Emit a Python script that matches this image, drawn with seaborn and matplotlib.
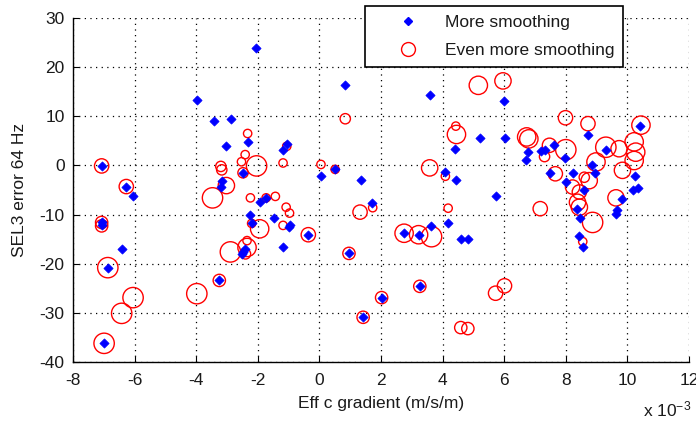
import numpy as np
import pandas as pd
import matplotlib
matplotlib.use("Agg")
import matplotlib.pyplot as plt
from matplotlib.lines import Line2D
from matplotlib.ticker import FuncFormatter
import seaborn as sns

# ---- data (x in units of 1e-3 m/s/m) ----
blue_x = [-7.07, -6.27, -6.05, -7.07, -7.07, -6.42, -6.87, -6.99, -3.98, -3.43, -2.88, -3.03,
          -2.33, -2.06, -1.06, -1.18, -2.48, -3.16, -3.21, -1.73, -1.94, -1.46, -2.24, -2.20,
          -2.43, -2.47, -2.50, -1.00, -0.94, -1.18, -3.25,
          0.05, 0.51, 1.34, 0.84, -0.36, 0.96, 1.70, 2.02, 1.42, 3.26, 2.75, 3.22, 3.62, 4.18,
          4.59, 4.82, 3.58, 4.40, 5.20, 4.09, 4.45, 5.98, 6.01, 6.77, 6.71, 5.74,
          7.20, 7.31, 7.63, 7.99, 7.49, 8.22, 8.01, 8.60, 8.35, 8.46, 8.44, 8.55, 8.72, 10.41,
          9.30, 8.85, 8.96, 10.25, 10.19, 10.34, 9.82, 9.65, 9.63]
blue_y = [-0.1, -4.3, -6.3, -11.6, -12.2, -17.0, -20.8, -36.2, 13.4, 9.1, 9.4, 3.9,
          4.7, 23.8, 4.4, 3.2, -1.5, -3.1, -4.4, -6.6, -7.5, -10.6, -10.0, -11.8,
          -17.0, -17.7, -18.0, -12.6, -12.2, -16.7, -23.4,
          -2.2, -0.8, -2.9, 16.3, -14.1, -17.9, -7.7, -26.9, -30.9, -24.6, -13.8, -14.1, -12.4, -11.8,
          -15.0, -15.0, 14.3, 3.3, 5.6, -1.4, -2.9, 13.1, 5.6, 2.7, 1.2, -6.3,
          2.9, 3.2, 4.1, 1.6, -1.5, -1.6, -3.3, -5.0, -8.8, -10.7, -14.3, -16.5, 6.2, 8.0,
          3.2, 0.0, -1.6, -2.2, -5.1, -4.5, -6.9, -9.0, -9.9]

red_x = [-7.07, -6.27, -7.07, -7.07, -6.87, -6.05, -6.42, -6.99, -3.98, -3.25, -3.47, -3.02,
         -3.20, -3.17, -2.33, -2.41, -2.53, -2.04, -2.48, -1.06, -1.18, -2.24, -1.73, -1.43,
         -1.08, -0.97, -1.18, -2.20, -1.94, -2.89, -2.35, -2.35, -2.40,
         -0.36, 0.96, 1.32, 1.73, 0.84, 0.05, 0.51, 2.02, 1.42, 3.26, 2.75, 3.22, 3.64, 3.58,
         4.09, 4.18, 4.43, 4.45, 5.16, 5.96, 4.59, 4.82, 5.72, 6.01,
         6.73, 6.80, 7.47, 7.31, 7.99, 8.00, 7.66, 8.72, 10.44, 8.22, 8.60, 8.76, 8.44, 8.38,
         8.44, 8.87, 8.55, 9.30, 9.73, 10.22, 10.27, 10.22, 8.98, 9.84, 9.63, 7.17]
red_y = [-0.1, -4.3, -11.6, -12.3, -20.8, -26.9, -30.1, -36.2, -26.1, -23.4, -6.6, -4.1,
         -0.2, -0.9, 6.5, 2.2, 0.75, -0.1, -1.5, 3.9, 0.5, -6.6, -6.6, -6.3,
         -8.5, -9.7, -12.2, -11.8, -12.9, -17.6, -16.7, -15.3, -18.0,
         -14.1, -17.9, -9.5, -8.6, 9.5, 0.2, -0.8, -26.9, -30.9, -24.6, -13.8, -14.1, -14.5, -0.5,
         -2.2, -8.7, 8.0, 6.3, 16.3, 17.2, -33.0, -33.2, -26.0, -24.5,
         5.8, 5.4, 4.1, 1.8, 9.7, 3.2, -1.7, 8.5, 8.2, -4.4, -2.4, -3.1, -5.4, -7.5,
         -8.5, -11.6, -15.5, 3.7, 3.4, 4.8, 2.7, 1.0, 0.7, -1.0, -6.6, -8.8]
red_weight = [7, 7, 6, 6, 10, 10, 10, 10, 10, 6, 10, 8,
              5, 5, 4, 4, 4, 10, 5, 4, 4, 4, 4, 4,
              4, 4, 4, 4, 9, 10, 9, 4, 5,
              7, 6, 7, 4, 5, 4, 4, 6, 6, 6, 9, 9, 10, 8,
              4, 4, 4, 9, 9, 8, 6, 6, 7, 7,
              9, 9, 7, 5, 7, 10, 7, 7, 9, 7, 5, 8, 7, 8,
              8, 10, 4, 10, 8, 9, 9, 9, 9, 8, 8, 7]

x_ticks = [-8, -6, -4, -2, 0, 2, 4, 6, 8, 10, 12]
y_ticks = [-40, -30, -20, -10, 0, 10, 20, 30]
series_labels = ["More smoothing", "Even more smoothing"]

blue_df = pd.DataFrame({"x": np.array(blue_x) * 1e-3, "y": blue_y})
red_df = pd.DataFrame({"x": np.array(red_x) * 1e-3, "y": red_y,
                       "w": np.array(red_weight, dtype=float) ** 2})

sns.set_theme(style="white")
plt.rcParams["font.family"] = ["Liberation Sans", "DejaVu Sans"]
plt.rcParams["axes.unicode_minus"] = False
plt.rcParams["mathtext.fontset"] = "custom"
plt.rcParams["mathtext.rm"] = "Liberation Sans"
plt.rcParams["mathtext.it"] = "Liberation Sans"
plt.rcParams["mathtext.default"] = "regular"

FS = 12.5
TXT = "#1a1a1a"

fig = plt.figure(figsize=(6.96, 4.23), dpi=100)
ax = fig.add_axes([73 / 696, 1 - 362 / 423, (689 - 73) / 696, (362 - 18) / 423])

sns.scatterplot(data=red_df, x="x", y="y", size="w", sizes=(36, 215), size_norm=(16, 100),
                marker="o", facecolor="none", edgecolor="#ff0000", linewidth=1.0,
                legend=False, ax=ax, zorder=3)
for coll in ax.collections:
    coll.set_facecolor("none")
    coll.set_edgecolor("#ff0000")

sns.scatterplot(data=blue_df, x="x", y="y", marker="D", s=22, color="#0000ff",
                edgecolor="#0000ff", linewidth=0.5, legend=False, ax=ax, zorder=4)

ax.set_xlim(-8e-3, 12e-3)
ax.set_ylim(-40, 30)
ax.set_xticks([t * 1e-3 for t in x_ticks])
ax.xaxis.set_major_formatter(FuncFormatter(lambda v, p: f"{v * 1e3:g}"))
ax.set_yticks(y_ticks)

ax.grid(True, color="black", linestyle=(0, (1, 3.5)), linewidth=0.9)
for s in ["top", "right"]:
    ax.spines[s].set_visible(False)
for s in ["left", "bottom"]:
    ax.spines[s].set_color("black")
    ax.spines[s].set_linewidth(1.0)
ax.tick_params(direction="in", length=4, width=0.8, colors="black", labelcolor=TXT,
               labelsize=FS, left=True, bottom=True, pad=6)
ax.tick_params(axis="x", pad=8)

ax.set_xlabel("Eff c gradient (m/s/m)", fontsize=FS, color=TXT, labelpad=6)
ax.set_ylabel("SEL3 error 64 Hz", fontsize=FS, color=TXT, labelpad=9)

fig.text(643 / 696, 1 - 419 / 423, r"x 10$^{-3}$", fontsize=FS, color=TXT,
         ha="left", va="bottom")

handles = [Line2D([], [], marker="D", linestyle="none", color="#0000ff", markersize=4.5),
           Line2D([], [], marker="o", linestyle="none", markerfacecolor="none",
                  markeredgecolor="#ff0000", markersize=10, markeredgewidth=1.0)]
leg = fig.legend(handles, series_labels, loc="upper right",
                 bbox_to_anchor=(623 / 696, 1 - 6 / 423), bbox_transform=fig.transFigure,
                 fontsize=FS, frameon=True, fancybox=False, framealpha=1,
                 borderpad=0.5, handlelength=4.0, handletextpad=0.1, labelspacing=0.75,
                 borderaxespad=0)
leg.get_frame().set_edgecolor("black")
leg.get_frame().set_linewidth(1.2)
for t in leg.get_texts():
    t.set_color(TXT)

fig.savefig("out.png", dpi=100)
